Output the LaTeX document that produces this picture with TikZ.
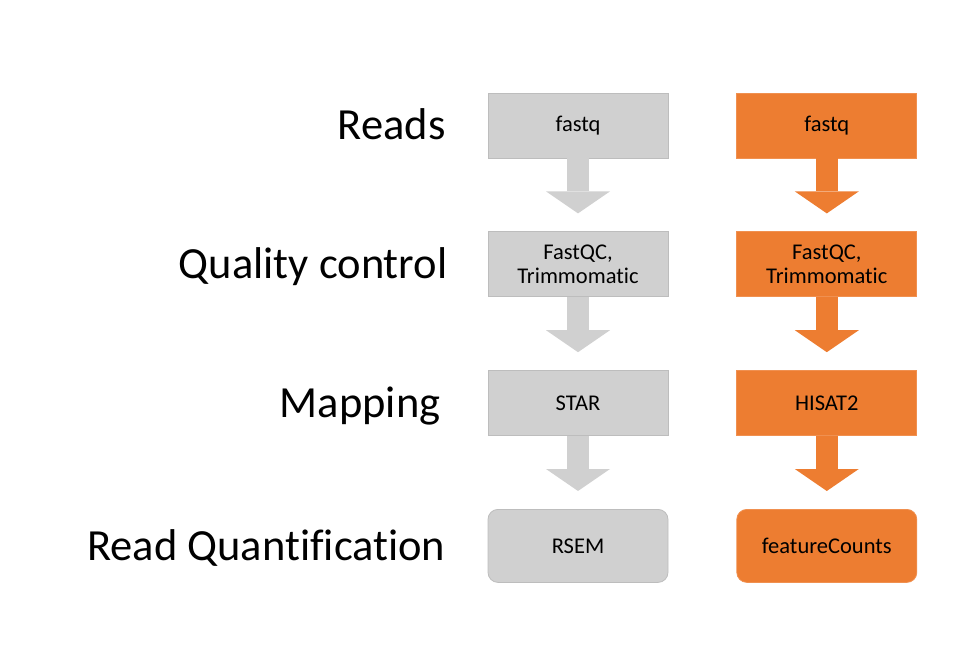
\documentclass[tikz,border=0pt]{standalone}
\usepackage{fontspec}
\setmainfont{Carlito}[Ligatures=NoCommon]
\usetikzlibrary{positioning, arrows.meta}
\definecolor{boxgray}{HTML}{D0D0D0}
\definecolor{edgegray}{HTML}{BDBDBD}
\definecolor{boxorange}{HTML}{ED7D31}

\begin{document}
\begin{tikzpicture}[x=1pt, y=1pt,
    node distance=73pt and 68pt,
    stepnode/.style={rectangle, minimum width=180pt, minimum height=65pt, inner sep=0pt, align=center, font=\fontsize{22.5}{24}\selectfont},
    graynode/.style={stepnode, fill=boxgray, draw=edgegray, line width=0.8pt},
    orangenode/.style={stepnode, fill=boxorange, draw=boxorange!85!white, line width=0.8pt},
    lastnode/.style={minimum height=73pt, rounded corners=10pt},
    labelnode/.style={inner sep=0pt, text height=31pt, text depth=2pt, font=\fontsize{44.5}{52}\selectfont},
    grayarrow/.style={draw=boxgray, line width=22pt, shorten >=18pt, -{Triangle[width=64pt, length=22pt, line width=0pt]}},
    orangearrow/.style={grayarrow, draw=boxorange},
    ]
    \useasboundingbox (0,0) rectangle (960,648);

    % STAR / RSEM column
    \node[graynode] (g1) at (578,522.5) {fastq};
    \node[graynode] (g2) [below=of g1] {FastQC,\\Trimmomatic};
    \node[graynode] (g3) [below=of g2] {STAR};
    \node[graynode, lastnode] (g4) [below=of g3] {RSEM};

    % HISAT2 / featureCounts column
    \node[orangenode] (o1) [right=of g1] {fastq};
    \node[orangenode] (o2) [right=of g2] {FastQC,\\Trimmomatic};
    \node[orangenode] (o3) [right=of g3] {HISAT2};
    \node[orangenode, lastnode] (o4) [right=of g4] {featureCounts};

    % step names
    \node[labelnode] (reads) [left=42pt of g1] {Reads};
    \node[labelnode] (qc) [left=40pt of g2] {Quality control};
    \node[labelnode] (mapping) [left=47pt of g3] {Mapping};
    \node[labelnode] (quant) [left=42pt of g4] {Read Quantification};

    \draw[grayarrow] (g1.south) -- (g2.north);
    \draw[grayarrow] (g2.south) -- (g3.north);
    \draw[grayarrow] (g3.south) -- (g4.north);
    \draw[orangearrow] (o1.south) -- (o2.north);
    \draw[orangearrow] (o2.south) -- (o3.north);
    \draw[orangearrow] (o3.south) -- (o4.north);
\end{tikzpicture}
\end{document}
